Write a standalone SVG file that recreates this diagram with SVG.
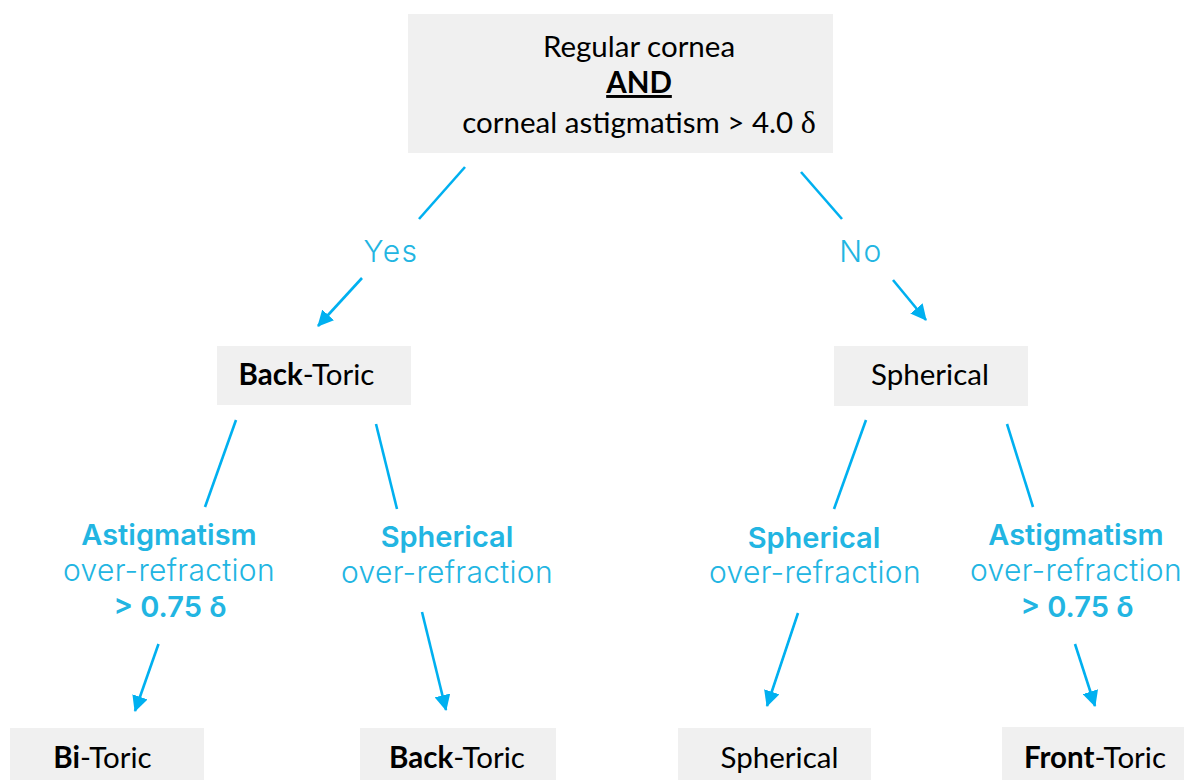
<svg xmlns="http://www.w3.org/2000/svg" width="1184" height="780" viewBox="0 0 1184 780">
  <style>
    .box { fill: #f0f0f0; }
    .nt { font-family: Lato, "Liberation Sans", sans-serif; font-size: 29.5px; fill: #000; text-anchor: middle; }
    .b { font-weight: 700; }
    .lbl { font-family: Inter, "DejaVu Sans", sans-serif; font-size: 30px; fill: #22b5e2; text-anchor: middle; font-weight: 300; letter-spacing: 0.3px; }
    .lb { font-weight: 600; font-size: 29px; letter-spacing: 0; }
    .yn { font-size: 30px; letter-spacing: 1.5px; }
    .con { stroke: #00b0f0; stroke-width: 2.6; fill: none; }
    .arr { marker-end: url(#ah); }
  </style>
  <defs>
    <marker id="ah" markerUnits="userSpaceOnUse" markerWidth="16" markerHeight="16" refX="15" refY="8" orient="auto">
      <path d="M0,0 L16,8 L0,16 z" fill="#00b0f0"/>
    </marker>
  </defs>
  <rect width="1184" height="780" fill="#fff"/>

  <g id="connectors">
    <line class="con" x1="465" y1="167" x2="419" y2="219"/>
    <line class="con arr" x1="362" y1="278" x2="318" y2="326"/>
    <line class="con" x1="801" y1="172" x2="842" y2="219"/>
    <line class="con arr" x1="893" y1="280" x2="926" y2="320"/>
    <line class="con" x1="236" y1="420" x2="205" y2="507"/>
    <line class="con" x1="376" y1="424" x2="397" y2="509"/>
    <line class="con" x1="866" y1="420" x2="834" y2="509"/>
    <line class="con" x1="1007" y1="424" x2="1033" y2="507"/>
    <line class="con arr" x1="158.5" y1="644" x2="135" y2="711"/>
    <line class="con arr" x1="422" y1="612" x2="446" y2="710"/>
    <line class="con arr" x1="798" y1="613" x2="767" y2="706"/>
    <line class="con arr" x1="1075" y1="644" x2="1095" y2="706"/>
  </g>

  <g id="labels">
    <text class="lbl yn" x="391" y="262">Yes</text>
    <text class="lbl yn" x="861" y="262">No</text>
    <text class="lbl lb" x="169" y="545">Astigmatism</text>
    <text class="lbl" x="169" y="581">over-refraction</text>
    <text class="lbl lb" x="170" y="617">&gt; 0.75 δ</text>
    <text class="lbl lb" x="447" y="547">Spherical</text>
    <text class="lbl" x="447" y="583">over-refraction</text>
    <text class="lbl lb" x="814" y="548">Spherical</text>
    <text class="lbl" x="815" y="583">over-refraction</text>
    <text class="lbl lb" x="1076" y="545">Astigmatism</text>
    <text class="lbl" x="1076" y="581">over-refraction</text>
    <text class="lbl lb" x="1077" y="617">&gt; 0.75 δ</text>
  </g>

  <g id="n-root">
    <rect class="box" x="408" y="14" width="425" height="139"/>
    <text class="nt" x="639" y="57">Regular cornea</text>
    <text class="nt b" x="639" y="93" text-decoration="underline">AND</text>
    <text class="nt" x="639" y="133">corneal astigmatism &gt; 4.0 <tspan font-family="'Liberation Serif', serif" font-size="32px">δ</tspan></text>
  </g>

  <g id="n-backtoric1">
    <rect class="box" x="217" y="346" width="194" height="59"/>
    <text class="nt" x="306.5" y="385"><tspan class="b">Back</tspan>-Toric</text>
  </g>

  <g id="n-spherical1">
    <rect class="box" x="834" y="346" width="194" height="60"/>
    <text class="nt" x="930" y="385">Spherical</text>
  </g>

  <g id="n-bitoric">
    <rect class="box" x="10" y="728" width="194" height="60"/>
    <text class="nt" x="102.5" y="768"><tspan class="b">Bi</tspan>-Toric</text>
  </g>

  <g id="n-backtoric2">
    <rect class="box" x="360" y="728" width="196" height="60"/>
    <text class="nt" x="457" y="768"><tspan class="b">Back</tspan>-Toric</text>
  </g>

  <g id="n-spherical2">
    <rect class="box" x="678" y="728" width="193" height="60"/>
    <text class="nt" x="779.5" y="768">Spherical</text>
  </g>

  <g id="n-fronttoric">
    <rect class="box" x="1002" y="727" width="190" height="60"/>
    <text class="nt" x="1095" y="768"><tspan class="b">Front</tspan>-Toric</text>
  </g>
</svg>
